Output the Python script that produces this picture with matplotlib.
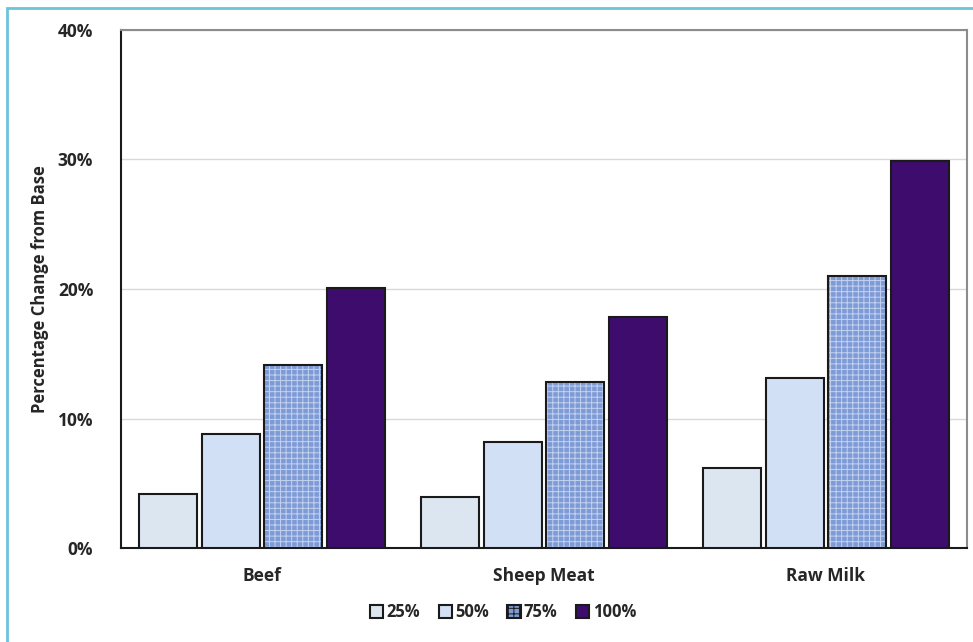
import numpy as np
import matplotlib
matplotlib.use("Agg")
import matplotlib.pyplot as plt
from matplotlib.patches import Rectangle

# data
categories = ["Beef", "Sheep Meat", "Raw Milk"]
series = ["25%", "50%", "75%", "100%"]
v25 = [4.2, 3.9, 6.2]
v50 = [8.8, 8.2, 13.1]
v75 = [14.1, 12.8, 21.0]
v100 = [20.1, 17.8, 29.9]
yticks = [0, 10, 20, 30, 40]
ytick_labels = ["0%", "10%", "20%", "30%", "40%"]

plt.rcParams['font.family'] = ['Open Sans', 'DejaVu Sans']
plt.rcParams['hatch.linewidth'] = 0.7

fig = plt.figure(figsize=(9.73, 6.42), dpi=100)
ax = fig.add_axes([121/973, 1-548/642, (967-121)/973, (548-30)/642])

colors = ["#dce6f1", "#d2e0f5", "#7f9bd6", "#3d0c6c"]
hatches = [None, None, "+++", None]
values = [v25, v50, v75, v100]

x = np.arange(len(categories))
w = 0.207
step = 0.222
for i, (vals, c, h) in enumerate(zip(values, colors, hatches)):
    off = (i - 1.5) * step
    if h:
        # textured fill: light hatch lines, then black outline on top
        ax.bar(x + off, vals, width=w, color=c, edgecolor="#c3d2f0",
               linewidth=0, hatch=h, zorder=3)
        ax.bar(x + off, vals, width=w, fill=False, edgecolor="#1a1a1a",
               linewidth=1.5, zorder=4)
        ax.bar([0], [0], width=0, color=c, edgecolor="#1a1a1a", linewidth=1.5,
               hatch=h, label=series[i])
    else:
        ax.bar(x + off, vals, width=w, color=c, edgecolor="#1a1a1a",
               linewidth=1.5, label=series[i], zorder=3)

ax.set_xlim(-0.5, 2.5)
ax.set_ylim(0, 40)
ax.set_yticks(yticks)
ax.set_yticklabels(ytick_labels)
ax.set_xticks(x)
ax.set_xticklabels(categories)
ax.tick_params(length=0, labelsize=12.5, labelcolor="#262626")
for lab in ax.get_xticklabels() + ax.get_yticklabels():
    lab.set_fontweight("bold")
ax.tick_params(axis='y', pad=20)
ax.tick_params(axis='x', pad=14)

ax.yaxis.grid(True, color="#d9d9d9", linewidth=1, zorder=0)
ax.set_axisbelow(True)
ax.spines['left'].set_color("#1a1a1a")
ax.spines['bottom'].set_color("#1a1a1a")
ax.spines['left'].set_linewidth(1.5)
ax.spines['bottom'].set_linewidth(1.5)
ax.spines['top'].set_color("#8c8c8c")
ax.spines['right'].set_color("#8c8c8c")
ax.spines['top'].set_linewidth(1.5)
ax.spines['right'].set_linewidth(1.5)

fig.text(40/973, 1-289/642, "Percentage Change from Base", rotation=90,
         ha='center', va='center', fontsize=12, fontweight='bold', color="#262626")

leg = fig.legend(loc='center', bbox_to_anchor=(503/973, 1-612/642), ncol=4,
                 frameon=False, fontsize=12, handlelength=0.8, handleheight=0.8,
                 handletextpad=0.2, columnspacing=1.1)
for t in leg.get_texts():
    t.set_fontweight("bold")
    t.set_color("#262626")

# outer chart border
fig.patches.append(Rectangle((7/973, -0.01), 1.0, 1-8/642 + 0.01, transform=fig.transFigure,
                             fill=False, edgecolor="#6cc3dc", linewidth=2))

fig.savefig("out.png", dpi=100)
